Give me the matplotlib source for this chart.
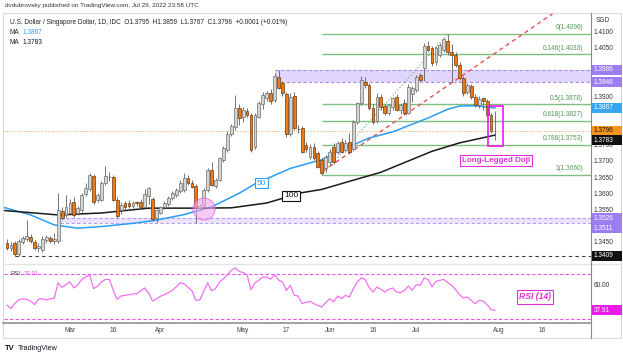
import numpy as np
import pandas as pd
import matplotlib
matplotlib.use("Agg")
import matplotlib.pyplot as plt
from matplotlib.patches import Rectangle, Ellipse
from matplotlib.transforms import IdentityTransform, offset_copy

plt.rcParams['font.family'] = ['Liberation Sans', 'DejaVu Sans']

W, H, DPI = 623, 357, 100

# ---------------- data ----------------
start_date = "2022-02-07"
dates = pd.bdate_range(start_date, "2022-07-29")

opens = [1.3450, 1.3433, 1.3450, 1.3415, 1.3452, 1.3462, 1.3468, 1.3452, 1.3433, 1.3428,
         1.3458, 1.3465, 1.3455, 1.3455, 1.3549, 1.3536, 1.3541, 1.3577, 1.3541, 1.3551,
         1.3600, 1.3615, 1.3656, 1.3582, 1.3582, 1.3634, 1.3652, 1.3654, 1.3582, 1.3551,
         1.3572, 1.3574, 1.3564, 1.3575, 1.3577, 1.3562, 1.3595, 1.3585, 1.3525, 1.3543,
         1.3562, 1.3570, 1.3589, 1.3598, 1.3610, 1.3613, 1.3649, 1.3636, 1.3625, 1.3558,
         1.3567, 1.3613, 1.3675, 1.3627, 1.3644, 1.3706, 1.3737, 1.3786, 1.3809, 1.3866,
         1.3840, 1.3858, 1.3845, 1.3747, 1.3840, 1.3880, 1.3897, 1.3912, 1.3892, 1.3964,
         1.3943, 1.3910, 1.3785, 1.3905, 1.3803, 1.3804, 1.3752, 1.3716, 1.3747, 1.3727,
         1.3706, 1.3680, 1.3701, 1.3747, 1.3732, 1.3763, 1.3737, 1.3763, 1.3740, 1.3825,
         1.3881, 1.3948, 1.3938, 1.3866, 1.3828, 1.3900, 1.3872, 1.3850, 1.3870, 1.3902,
         1.3860, 1.3881, 1.3852, 1.3910, 1.3923, 1.3969, 1.3990, 1.4060, 1.4052, 1.4010,
         1.4031, 1.4046, 1.4075, 1.4040, 1.4031, 1.4000, 1.3959, 1.3917, 1.3935, 1.3902,
         1.3876, 1.3898, 1.3888, 1.3846, 1.3795]
highs = [1.3462, 1.3452, 1.3456, 1.3462, 1.3472, 1.3520, 1.3478, 1.3458, 1.3448, 1.3470,
         1.3474, 1.3472, 1.3479, 1.3605, 1.3560, 1.3598, 1.3585, 1.3590, 1.3565, 1.3605,
         1.3636, 1.3667, 1.3662, 1.3605, 1.3640, 1.3687, 1.3668, 1.3660, 1.3590, 1.3575,
         1.3580, 1.3582, 1.3578, 1.3580, 1.3585, 1.3615, 1.3623, 1.3590, 1.3555, 1.3565,
         1.3578, 1.3595, 1.3610, 1.3620, 1.3645, 1.3665, 1.3660, 1.3645, 1.3632, 1.3570,
         1.3618, 1.3680, 1.3701, 1.3650, 1.3715, 1.3750, 1.3795, 1.3818, 1.3907, 1.3880,
         1.3870, 1.3868, 1.3850, 1.3850, 1.3890, 1.3915, 1.3920, 1.3925, 1.3975, 1.3986,
         1.3950, 1.3915, 1.3912, 1.3915, 1.3815, 1.3810, 1.3762, 1.3755, 1.3760, 1.3735,
         1.3712, 1.3722, 1.3740, 1.3760, 1.3765, 1.3775, 1.3768, 1.3790, 1.3830, 1.3885,
         1.3965, 1.3962, 1.3945, 1.3880, 1.3912, 1.3910, 1.3880, 1.3880, 1.3900, 1.3910,
         1.3880, 1.3895, 1.3940, 1.3935, 1.3970, 1.3975, 1.4068, 1.4075, 1.4060, 1.4058,
         1.4068, 1.4085, 1.4096, 1.4065, 1.4040, 1.4008, 1.3965, 1.3945, 1.3940, 1.3910,
         1.3905, 1.3902, 1.3895, 1.3852, 1.3859]
lows = [1.3428, 1.3425, 1.3409, 1.3410, 1.3445, 1.3455, 1.3448, 1.3428, 1.3422, 1.3420,
        1.3450, 1.3448, 1.3447, 1.3450, 1.3520, 1.3530, 1.3535, 1.3530, 1.3535, 1.3545,
        1.3595, 1.3610, 1.3570, 1.3575, 1.3578, 1.3630, 1.3640, 1.3578, 1.3528, 1.3540,
        1.3555, 1.3558, 1.3558, 1.3565, 1.3555, 1.3558, 1.3570, 1.3518, 1.3515, 1.3538,
        1.3555, 1.3565, 1.3582, 1.3590, 1.3605, 1.3608, 1.3630, 1.3618, 1.3511, 1.3550,
        1.3560, 1.3608, 1.3625, 1.3620, 1.3640, 1.3700, 1.3730, 1.3780, 1.3800, 1.3815,
        1.3825, 1.3838, 1.3730, 1.3740, 1.3835, 1.3865, 1.3890, 1.3880, 1.3885, 1.3925,
        1.3905, 1.3778, 1.3780, 1.3798, 1.3790, 1.3728, 1.3732, 1.3710, 1.3705, 1.3680,
        1.3660, 1.3670, 1.3695, 1.3695, 1.3725, 1.3728, 1.3730, 1.3725, 1.3735, 1.3818,
        1.3875, 1.3930, 1.3860, 1.3818, 1.3822, 1.3862, 1.3845, 1.3845, 1.3862, 1.3858,
        1.3848, 1.3845, 1.3848, 1.3885, 1.3915, 1.3950, 1.3950, 1.4040, 1.3998, 1.4000,
        1.4025, 1.4040, 1.4030, 1.3946, 1.3995, 1.3955, 1.3905, 1.3910, 1.3895, 1.3870,
        1.3868, 1.3860, 1.3840, 1.3790, 1.3767]
closes = [1.3433, 1.3443, 1.3415, 1.3455, 1.3464, 1.3470, 1.3455, 1.3433, 1.3440, 1.3462,
          1.3467, 1.3455, 1.3462, 1.3551, 1.3525, 1.3561, 1.3572, 1.3536, 1.3556, 1.3598,
          1.3618, 1.3660, 1.3577, 1.3598, 1.3634, 1.3656, 1.3654, 1.3582, 1.3533, 1.3567,
          1.3562, 1.3564, 1.3572, 1.3572, 1.3562, 1.3600, 1.3618, 1.3522, 1.3551, 1.3562,
          1.3574, 1.3589, 1.3605, 1.3613, 1.3636, 1.3649, 1.3636, 1.3623, 1.3562, 1.3564,
          1.3613, 1.3675, 1.3630, 1.3644, 1.3711, 1.3742, 1.3788, 1.3811, 1.3866, 1.3835,
          1.3862, 1.3845, 1.3737, 1.3845, 1.3881, 1.3907, 1.3912, 1.3890, 1.3966, 1.3928,
          1.3912, 1.3785, 1.3900, 1.3804, 1.3801, 1.3732, 1.3739, 1.3747, 1.3711, 1.3685,
          1.3665, 1.3716, 1.3732, 1.3701, 1.3758, 1.3732, 1.3758, 1.3732, 1.3825, 1.3881,
          1.3954, 1.3938, 1.3866, 1.3825, 1.3900, 1.3870, 1.3850, 1.3876, 1.3897, 1.3862,
          1.3876, 1.3852, 1.3933, 1.3928, 1.3964, 1.3954, 1.4060, 1.4046, 1.4005, 1.4052,
          1.4062, 1.4080, 1.4041, 1.4030, 1.4000, 1.3959, 1.3912, 1.3938, 1.3902, 1.3876,
          1.3895, 1.3888, 1.3846, 1.3797, 1.3796]

rsi = [42.3, 39.5, 44.0, 47.0, 48.0, 47.5, 46.0, 43.0, 47.5, 48.0,
       47.0, 48.0, 48.5, 62.0, 58.0, 60.5, 62.7, 57.5, 60.0, 65.0,
       67.0, 69.0, 57.0, 59.0, 62.7, 65.0, 65.0, 55.5, 47.5, 50.5,
       51.0, 51.6, 52.2, 52.5, 55.0, 57.5, 53.0, 46.0, 48.0, 50.2,
       51.6, 53.3, 55.4, 58.5, 62.0, 61.2, 58.0, 55.0, 46.7, 47.0,
       54.6, 62.1, 55.0, 57.0, 62.7, 65.6, 69.1, 73.0, 75.0, 72.0,
       71.0, 69.0, 56.0, 62.0, 64.2, 67.1, 67.1, 65.1, 69.1, 64.5,
       62.7, 55.4, 59.8, 51.0, 50.4, 43.7, 45.0, 45.8, 43.7, 42.0,
       40.8, 44.6, 48.1, 45.2, 50.4, 48.1, 51.0, 49.5, 56.8, 62.7,
       66.2, 65.0, 58.0, 53.9, 58.3, 56.3, 53.9, 56.3, 57.5, 53.9,
       53.3, 55.4, 59.2, 55.4, 60.4, 59.8, 66.2, 65.0, 58.5, 63.3,
       64.2, 65.0, 62.1, 59.8, 56.0, 51.5, 48.7, 49.6, 46.5, 43.7,
       46.7, 46.0, 42.8, 38.5, 37.91]

ma50_idx = [-1, 6, 12, 18, 24, 32, 38, 45, 52, 59, 63, 66, 72, 80, 85, 92, 98, 107, 112, 115, 119, 124]
ma50 = [1.3560, 1.3536, 1.3505, 1.3495, 1.3500, 1.3510, 1.3520, 1.3537, 1.3561, 1.3603, 1.3632,
        1.3648, 1.3680, 1.3707, 1.3737, 1.3774, 1.3793, 1.3836, 1.3863, 1.3873, 1.3874, 1.3867]
ma100_idx = [-1, 13, 24, 36, 49, 57, 66, 75, 80, 87, 95, 108, 115, 124]
ma100 = [1.3550, 1.3536, 1.3542, 1.3557, 1.3557, 1.3558, 1.3573, 1.3605, 1.3615, 1.3640,
         1.3668, 1.3733, 1.3759, 1.3783]

fib_levels = ["0", "0.146", "0.5", "0.618", "0.786", "1"]
fib_prices = [1.4096, 1.4033, 1.3878, 1.3827, 1.3753, 1.3660]
fib_start = 80
fib_anchor_idx = [80, 112]
fib_anchor_px = [1.3660, 1.4096]

zone_hi = (1.3946, 1.3986)
zone_hi_start = 68
zone_lo = (1.3511, 1.3526)
zone_lo_start = 13.5
support = 1.3409
support_start = 2
last_price = 1.3796

trend_idx = [80.3, 138.8]
trend_px = [1.3672, 1.4160]

tick_dates = ['2022-03-01', '2022-03-16', '2022-04-01', '2022-05-02', '2022-05-17',
              '2022-06-01', '2022-06-16', '2022-07-01', '2022-08-01', '2022-08-16']
tick_labels = ['Mar', '16', 'Apr', 'May', '17', 'Jun', '16', 'Jul', 'Aug', '16']

# visible (not covered) price scale labels
price_ticks = [1.4100, 1.4050, 1.3900, 1.3750, 1.3700, 1.3650, 1.3600, 1.3550, 1.3450]

# ---------------- figure ----------------
fig = plt.figure(figsize=(W / DPI, H / DPI), dpi=DPI)
fig.patch.set_facecolor('white')


def fy(ypx):
    return 1 - ypx / H


ax = fig.add_axes([4 / W, fy(263), 587 / W, 250 / H])
rax = fig.add_axes([4 / W, fy(322.7), 587 / W, 58 / H])
XL = (-0.762, 148.4)
for a in (ax, rax):
    a.set_xlim(*XL)
    a.axis('off')
ax.set_ylim(1.338722, 1.416097)
rax.set_ylim(27.0, 77.9)

x = np.arange(len(opens))
o, h, l, c = map(np.array, (opens, highs, lows, closes))
up = c >= o

# zones
ax.fill_between([zone_hi_start, XL[1]], zone_hi[0], zone_hi[1], color='#e0d5fb', lw=0, zorder=1)
ax.hlines(zone_hi, zone_hi_start, XL[1], colors='#a68cf3', linestyles=(0, (3, 2)), lw=0.8, zorder=1.1)
ax.fill_between([zone_lo_start, XL[1]], zone_lo[0], zone_lo[1], color='#ebe3fd', lw=0, zorder=1)
ax.hlines(zone_lo, zone_lo_start, XL[1], colors='#b39df5', linestyles=(0, (3, 2)), lw=0.8, zorder=1.1)

# support and last price
ax.hlines(support, support_start, XL[1], colors='#3a3a3a', linestyles=(0, (3, 3)), lw=0.8, zorder=1.2)
ax.hlines(last_price, XL[0], XL[1], colors='#f6a75e', linestyles=(0, (1, 1.5)), lw=0.7, zorder=1.2)

# fib lines
ax.hlines(fib_prices, fib_start, XL[1], colors='#7cbf7e', lw=1.0, zorder=1.3)
lab_tr = offset_copy(ax.transData, fig=fig, y=2.5, units='dots')
for lv, p in zip(fib_levels, fib_prices):
    ax.text(146.4, p, f"{lv}({p:.4f})", transform=lab_tr, ha='right', va='bottom',
            fontsize=4.7, color='#4e9a51', zorder=6)
ax.plot(fib_anchor_idx, fib_anchor_px, color='#5cb85c', ls=(0, (1, 2)), lw=0.8, zorder=1.4)

# trend line (ray)
slope = (trend_px[1] - trend_px[0]) / (trend_idx[1] - trend_idx[0])
ax.plot([trend_idx[0], XL[1]], [trend_px[0], trend_px[0] + slope * (XL[1] - trend_idx[0])],
        color='#ef4f4f', ls=(0, (3, 2.5)), lw=1.0, zorder=1.5)

# moving averages
ax.plot(ma50_idx, ma50, color='#2a9df4', lw=1.1, zorder=2)
ax.plot(ma100_idx, ma100, color='#1a1a1a', lw=1.1, zorder=2)

# candles
ax.vlines(x, l, h, color='#5e5e5e', lw=0.6, zorder=3)
body_b = np.minimum(o, c)
body_h = np.maximum(np.abs(c - o), 0.00006)
ax.bar(x[up], body_h[up], bottom=body_b[up], width=0.72, color='#d4d4d4',
       edgecolor='#6e6e6e', linewidth=0.5, zorder=4)
ax.bar(x[~up], body_h[~up], bottom=body_b[~up], width=0.72, color='#f07a12',
       edgecolor='#6a3a10', linewidth=0.5, zorder=4)

# MA labels
ax.text(64.6, 1.3634, '50', color='#2a9df4', fontsize=6, ha='center', va='center', zorder=7,
        bbox=dict(boxstyle='square,pad=0.2', fc='white', ec='#2a9df4', lw=0.8))
ax.text(72.2, 1.3595, '100', color='#111111', fontsize=6, ha='center', va='center', zorder=7,
        bbox=dict(boxstyle='square,pad=0.2', fc='white', ec='#111111', lw=0.8))

# crossover circle
ax.add_patch(Ellipse((50.06, 1.3554), 5.6, 0.0068, fc='#f6a6f0', alpha=0.6, ec='#e050e0', lw=0.8, zorder=5))

# doji box and label
ax.add_patch(Rectangle((122.1, 1.3749), 4.0, 0.0124, fill=False, ec='#e91ee6', lw=1.2, zorder=6))
ax.text(124.3, 1.3703, 'Long-Legged Doji', color='#e030d8', fontsize=5.8, fontweight='bold',
        ha='center', va='center', zorder=7,
        bbox=dict(boxstyle='square,pad=0.25', fc='white', ec='#e030d8', lw=0.8))

# RSI pane
rax.plot(x, rsi, color='#f46ff0', lw=0.9, zorder=3)
rax.hlines([70, 30], XL[0], XL[1], colors='#e852e8', linestyles=(0, (3, 2)), lw=0.8, zorder=2)
rax.text(134.2, 49.6, 'RSI (14)', color='#e030d8', fontsize=6.2, fontweight='bold', style='italic',
         ha='center', va='center', zorder=7,
         bbox=dict(boxstyle='square,pad=0.25', fc='white', ec='#e030d8', lw=0.8))
rax.text(1.0, 70, 'RSI', color='#444444', fontsize=4.3, ha='left', va='center', zorder=7)
rax.text(4.3, 70, '37.91', color='#e852e8', fontsize=4.3, ha='left', va='center', zorder=7)

# ---------------- separators / frame ----------------
fig.add_artist(Rectangle((3, 357 - 338), 618, 325, transform=IdentityTransform(),
                         fill=False, ec='#d9d9d9', lw=0.8, zorder=1))
fig.add_artist(plt.Line2D([3, 621], [357 - 264, 357 - 264], transform=IdentityTransform(),
                          color='#e3e3e3', lw=1.0, zorder=1))
fig.add_artist(plt.Line2D([3, 591], [357 - 322.7, 357 - 322.7], transform=IdentityTransform(),
                          color='#9a9a9a', lw=1.3, zorder=1))
fig.add_artist(plt.Line2D([591, 591], [357 - 338, 357 - 13], transform=IdentityTransform(),
                          color='#8a8a8a', lw=0.8, zorder=1))


# ---------------- price axis labels ----------------
def axis_label(a, val, txt, bg=None, fg='#333333', dy=0.0, z=2.0):
    yd = a.transData.transform((0, val))[1] + dy
    if bg:
        fig.add_artist(Rectangle((591.5, yd - 5.0), 30, 10.0, transform=IdentityTransform(),
                                 fc=bg, ec='none', zorder=z))
    fig.text(594 / W, yd / H, txt, color=fg, fontsize=4.7, va='center', ha='left', zorder=z + 0.1)


for p in price_ticks:
    axis_label(ax, p, f"{p:.4f}", z=1.5)
axis_label(ax, 1.3986, '1.3986', '#9c7df3', 'white', z=4)
axis_label(ax, 1.3946, '1.3946', '#9c7df3', 'white', z=4)
axis_label(ax, 1.3867, '1.3867', '#34a6f5', 'white', z=4)
axis_label(ax, 1.3796, '1.3796', '#f7941d', '#111111', z=4)
axis_label(ax, 1.3783, '1.3783', '#111111', 'white', dy=-5, z=4.5)
axis_label(ax, 1.3526, '1.3526', '#9c7df3', 'white', z=4)
axis_label(ax, 1.3511, '1.3511', '#9c7df3', 'white', dy=-5, z=4.5)
axis_label(ax, 1.3409, '1.3409', '#111111', 'white', z=4)
axis_label(rax, 60, '60.00', z=1.5)
axis_label(rax, 37.91, '37.91', '#e91ee6', 'white', z=4)
fig.text(596 / W, fy(21), 'SGD', color='#333333', fontsize=4.7, va='center', ha='left')

# ---------------- time axis ----------------
tick_pos = [np.busday_count(start_date, d) for d in tick_dates]
for pos, lab in zip(tick_pos, tick_labels):
    xd = rax.transData.transform((pos, 0))[0]
    fig.text(xd / W, fy(330), lab, color='#444444', fontsize=4.7, ha='center', va='center')

# ---------------- header / legend / footer ----------------
fig.text(5 / W, fy(6), 'dvdubrovsky published on TradingView.com, Jul 29, 2022 23:58 UTC',
         color='#333333', fontsize=4.6, va='center', ha='left')
fig.text(10 / W, fy(23), 'U.S. Dollar / Singapore Dollar, 1D, IDC  O1.3795  H1.3859  L1.3767  C1.3796  +0.0001 (+0.01%)',
         color='#222222', fontsize=4.7, va='center', ha='left')
fig.text(10 / W, fy(33), 'MA', color='#222222', fontsize=4.7, va='center', ha='left')
fig.text(23 / W, fy(33), '1.3867', color='#2a9df4', fontsize=4.7, va='center', ha='left')
fig.text(10 / W, fy(43), 'MA', color='#222222', fontsize=4.7, va='center', ha='left')
fig.text(23 / W, fy(43), '1.3783', color='#111111', fontsize=4.7, va='center', ha='left')
fig.text(5 / W, fy(348), 'TV', color='#131722', fontsize=5.5, fontweight='bold', va='center', ha='left')
fig.text(18 / W, fy(348), 'TradingView', color='#131722', fontsize=5.2, va='center', ha='left')

fig.savefig('out.png', dpi=DPI, facecolor='white')
